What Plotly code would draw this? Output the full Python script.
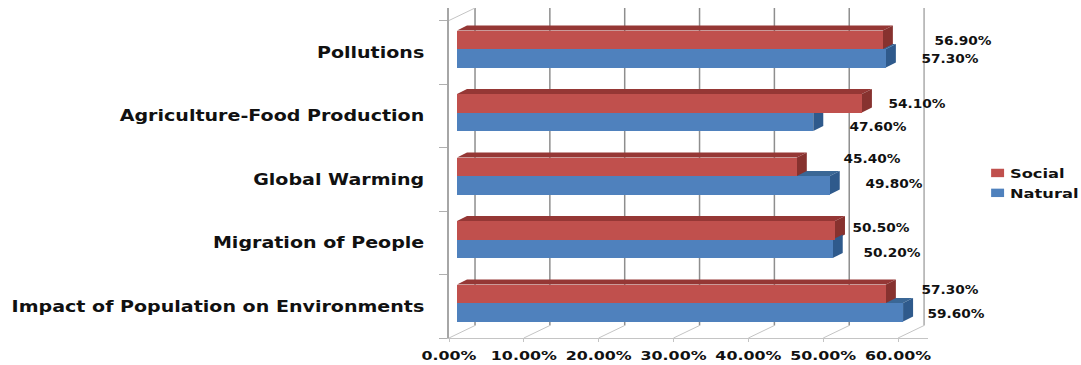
import plotly.graph_objects as go

# Survey results, listed bottom to top on the category axis
categories = [
    "Impact of Population on Environments",
    "Migration of People",
    "Global Warming",
    "Agriculture-Food Production",
    "Pollutions",
]
natural = [59.6, 50.2, 49.8, 47.6, 57.3]
social = [57.3, 50.5, 45.4, 54.1, 56.9]
x_ticks = [0, 10, 20, 30, 40, 50, 60]

# Pixel offsets of each value label from the end of its bar
natural_label_dx = [53, 59, 64, 65, 64]
natural_label_dy = [-11, -13, -8, -14, -10]
social_label_dx = [64, 46, 75, 55, 80]
social_label_dy = [13, 12, 17, 9, 8]

# Plot frame and scales
LEFT, TOP, BOTTOM = 449, 8, 338
PX_PER_X = 7.48
PX_PER_Y = 63.5
X_MAX = 64.0
Y_MIN = -35 / PX_PER_Y
Y_MAX = 295 / PX_PER_Y
WIDTH, HEIGHT = 1081, 365

# Pseudo-3D geometry in axis units
wall_dx, wall_dy = 26 / PX_PER_X, 12.5 / PX_PER_Y
bar_dx, bar_dy = 10 / PX_PER_X, 5 / PX_PER_Y
bar_inset = 8 / PX_PER_X
bar_h = 18.5 / PX_PER_Y

RED, RED_TOP, RED_SIDE = "#C0504D", "#953735", "#87322F"
BLUE, BLUE_TOP, BLUE_SIDE = "#4F81BD", "#3A6796", "#2F5A8C"
GRID_DARK, GRID_LIGHT = "#8E8E8E", "#C4C4C4"
FONT = "DejaVu Sans"


def poly(xs, ys, color):
    return go.Scatter(
        x=xs, y=ys, fill="toself", fillcolor=color, mode="lines",
        line=dict(width=0, color=color), showlegend=False, hoverinfo="skip",
    )


def top_face(value, lower, color):
    end = bar_inset + value
    return poly(
        [bar_inset, end, end + bar_dx, bar_inset + bar_dx, bar_inset],
        [lower, lower, lower + bar_dy, lower + bar_dy, lower], color,
    )


def side_face(value, lower, color):
    end = bar_inset + value
    return poly(
        [end, end + bar_dx, end + bar_dx, end, end],
        [lower, lower + bar_dy, lower + bar_dy - bar_h, lower - bar_h, lower], color,
    )


fig = go.Figure()

# Depth faces: tops first, then sides, so nearer faces sit on top
for i, v in enumerate(natural):
    fig.add_trace(top_face(v, i, BLUE_TOP))
for i, v in enumerate(social):
    fig.add_trace(top_face(v, i + bar_h, RED_TOP))
for i, v in enumerate(social):
    fig.add_trace(side_face(v, i + bar_h, RED_SIDE))
for i, v in enumerate(natural):
    fig.add_trace(side_face(v, i, BLUE_SIDE))

# Front faces live on an overlaid axis pair so they cover the depth faces
positions = list(range(len(categories)))
fig.add_trace(go.Bar(
    name="Social", y=positions, x=social, base=bar_inset, orientation="h",
    width=bar_h, offset=0, marker=dict(color=RED, line=dict(width=0)),
    xaxis="x2", yaxis="y2",
))
fig.add_trace(go.Bar(
    name="Natural", y=positions, x=natural, base=bar_inset, orientation="h",
    width=bar_h, offset=-bar_h, marker=dict(color=BLUE, line=dict(width=0)),
    xaxis="x2", yaxis="y2",
))

# Back wall verticals and floor diagonals
shapes = []
for t in x_ticks:
    last = t == x_ticks[-1]
    shapes.append(dict(
        type="line", layer="below", xref="x", yref="y",
        x0=t + wall_dx, x1=t + wall_dx, y0=Y_MIN + wall_dy, y1=Y_MAX,
        line=dict(color="#ABABAB" if last else GRID_DARK, width=1.5),
    ))
    shapes.append(dict(
        type="line", layer="below", xref="x", yref="y",
        x0=t, x1=t + wall_dx, y0=Y_MIN, y1=Y_MIN + wall_dy,
        line=dict(color=GRID_LIGHT, width=1),
    ))
# Upper edge of the side wall
shapes.append(dict(
    type="line", layer="below", xref="x", yref="y",
    x0=0, x1=wall_dx, y0=Y_MAX - wall_dy, y1=Y_MAX,
    line=dict(color=GRID_LIGHT, width=1),
))

# Value labels
annotations = []
for i in positions:
    for v, dx, dy in (
        (social[i], social_label_dx[i], social_label_dy[i]),
        (natural[i], natural_label_dx[i], natural_label_dy[i]),
    ):
        annotations.append(dict(
            x=v + bar_inset, y=i, xref="x", yref="y", text=f"{v:.2f}%",
            showarrow=False, xanchor="center", yanchor="middle",
            xshift=dx, yshift=dy,
            font=dict(family=FONT, size=12, color="#111111", weight="bold"),
        ))

fig.update_layout(
    template="none",
    width=WIDTH, height=HEIGHT, autosize=False,
    margin=dict(l=LEFT, t=TOP, b=HEIGHT - BOTTOM,
                r=WIDTH - LEFT - X_MAX * PX_PER_X, pad=0),
    plot_bgcolor="white", paper_bgcolor="white",
    barmode="overlay", bargap=0, shapes=shapes, annotations=annotations,
    font=dict(family=FONT, color="#111111"),
    xaxis=dict(
        automargin=False,
        range=[0, X_MAX], tickmode="array", tickvals=x_ticks,
        ticktext=[f"{t:.2f}%" for t in x_ticks],
        showgrid=False, zeroline=False, showline=True, linecolor=GRID_LIGHT,
        linewidth=1, ticks="outside", ticklen=3, tickcolor=GRID_LIGHT,
        ticklabelstandoff=2,
        tickfont=dict(family=FONT, size=13, color="#111111", weight="bold"),
    ),
    yaxis=dict(
        automargin=False,
        range=[Y_MIN, Y_MAX], tickmode="array",
        tickvals=[p - 0.055 for p in positions], ticktext=categories,
        showgrid=False, zeroline=False, showline=True, linecolor="#A6A6A6",
        linewidth=1.5, ticks="", ticklabelstandoff=20,
        minor=dict(tickmode="array",
                   tickvals=[Y_MIN + k for k in range(len(categories) + 1)],
                   ticks="outside", ticklen=8, tickcolor="#B0B0B0", showgrid=False),
        tickfont=dict(family=FONT, size=15, color="#111111", weight="bold"),
    ),
    xaxis2=dict(overlaying="x", matches="x", visible=False),
    yaxis2=dict(overlaying="y", matches="y", visible=False),
    legend=dict(
        x=970 / WIDTH, y=1 - 158 / HEIGHT, xref="container", yref="container",
        xanchor="left", yanchor="top", traceorder="normal",
        bgcolor="rgba(0,0,0,0)", itemwidth=30, tracegroupgap=0,
        font=dict(family=FONT, size=13, color="#111111", weight="bold"),
    ),
)

# Widen the lettering horizontally without changing its height,
# flatten the legend keys into small oblongs and let the longer
# legend text run past the legend's own clipping box
post_js = """
var gd = document.getElementById('{plot_id}');
function widen(sel, k) {
  gd.querySelectorAll(sel).forEach(function (t) {
    var w = t.getComputedTextLength();
    t.setAttribute('lengthAdjust', 'spacingAndGlyphs');
    t.setAttribute('textLength', w * k);
  });
}
widen('.ytick text', 1.27);
widen('.xtick text', 1.22);
widen('.annotation-text', 1.14);
widen('.legendtext', 1.25);
gd.querySelectorAll('.legendpoints').forEach(function (p) {
  p.setAttribute('transform', 'translate(6,0) scale(1.08,0.7)');
});
gd.querySelectorAll('.legend [clip-path], .legend[clip-path]').forEach(function (n) {
  n.removeAttribute('clip-path');
  n.style.clipPath = 'none';
});
"""

fig.write_html("out.html", post_script=post_js)
